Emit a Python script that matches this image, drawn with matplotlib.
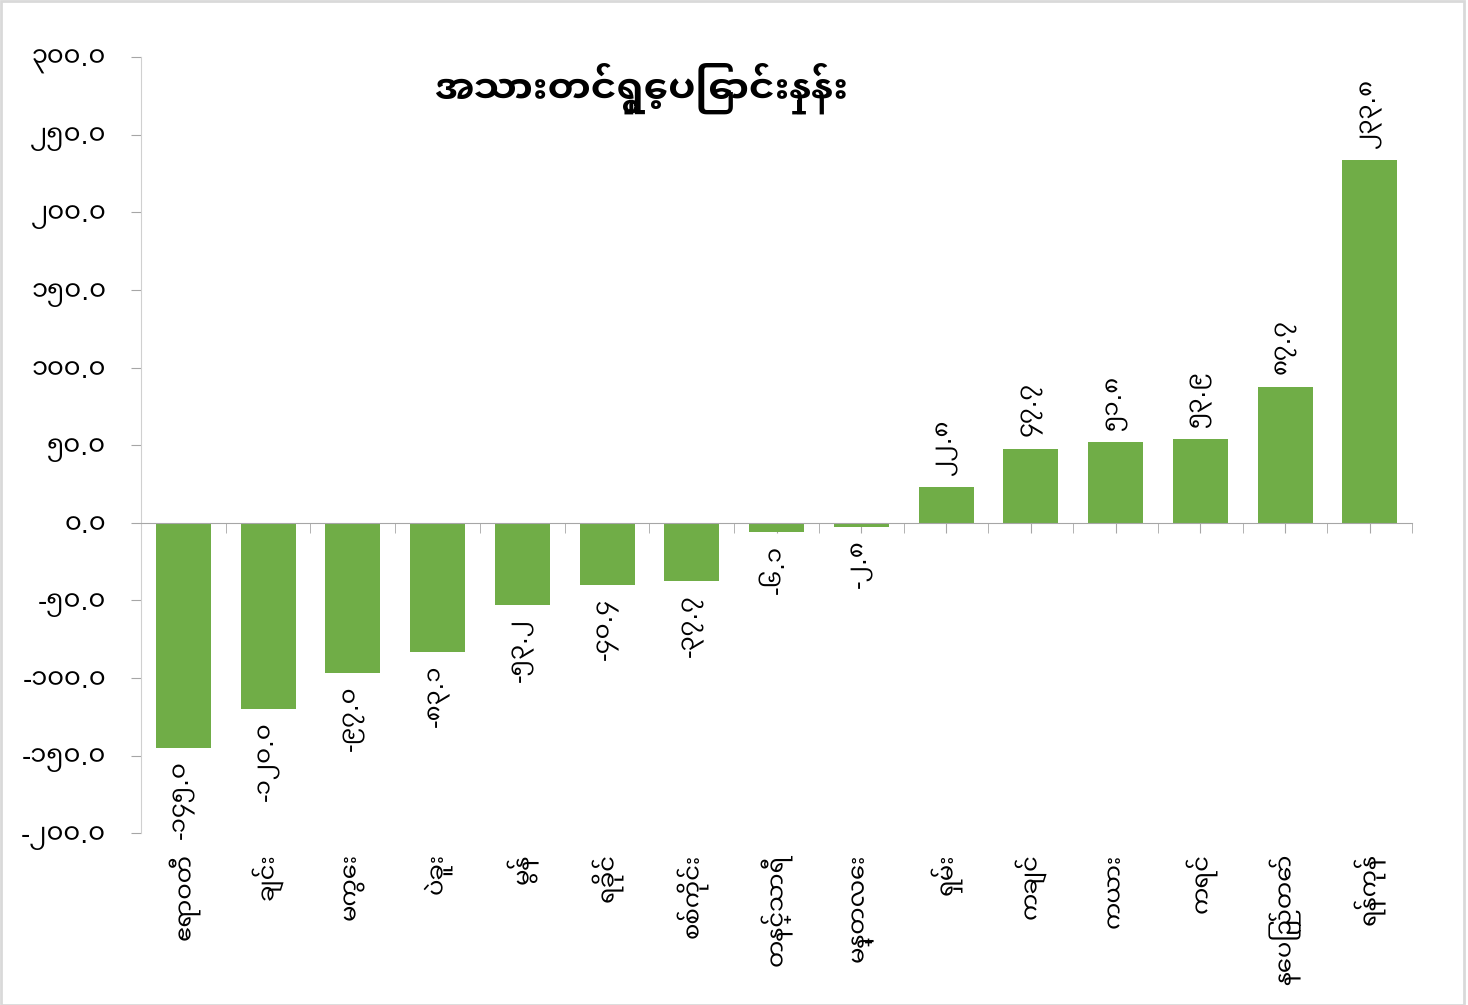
import matplotlib
matplotlib.use("Agg")
import matplotlib.pyplot as plt
from matplotlib.patches import Rectangle
import numpy as np

# data (net migration rate by state/region)
regions = ['ဧရာဝတီ', 'ချင်း', 'မကွေး', 'ပဲခူး', 'မွန်', 'ရခိုင်', 'စစ်ကိုင်း',
           'တနင်္သာရီ', 'မန္တလေး', 'ရှမ်း', 'ကချင်', 'ကယား', 'ကရင်',
           'နေပြည်တော်', 'ရန်ကုန်']
rates = [-145.0, -120.0, -97.0, -83.1, -53.2, -40.4, -37.7,
         -6.1, -2.8, 22.8, 47.7, 51.8, 53.9, 87.7, 233.8]
y_ticks = [-200, -150, -100, -50, 0, 50, 100, 150, 200, 250, 300]
title = 'အသားတင်ရွှေ့ပြောင်းနှုန်း'

plt.rcParams['font.family'] = ['Noto Sans Myanmar UI', 'DejaVu Sans']

mm_digits = str.maketrans('0123456789', '၀၁၂၃၄၅၆၇၈၉')


def mm(v):
    return f'{v:.1f}'.translate(mm_digits)


green = '#70AD47'
grey = '#A6A6A6'

fig = plt.figure(figsize=(14.68, 10.05), dpi=100)
ax = fig.add_axes([0.096, 0.171, 0.866, 0.772])

x = np.arange(len(regions))
ax.bar(x, rates, width=0.65, color=green, zorder=2)

ax.set_xlim(-0.5, len(regions) - 0.5)
ax.set_ylim(-200, 300)

# value labels, rotated like the reference
for xi, v in zip(x, rates):
    off = 9 if v >= 0 else -9
    ax.annotate(mm(v), (xi, v), xytext=(0, off), textcoords='offset points',
                rotation=90, ha='center', va='bottom' if v >= 0 else 'top',
                fontsize=17.5, color='black')

# category labels below the plot area
for xi, name in zip(x, regions):
    ax.text(xi, -0.026, name, transform=ax.get_xaxis_transform(),
            rotation=90, ha='center', va='top', fontsize=17.5, color='black')

# axes styling
for s in ['top', 'right']:
    ax.spines[s].set_visible(False)
ax.spines['bottom'].set_position(('data', 0))
ax.spines['bottom'].set_color(grey)
ax.spines['left'].set_color('#D0D0D0')

ax.set_yticks(y_ticks)
ax.set_yticklabels([mm(t) for t in y_ticks])
ax.tick_params(axis='y', length=7, color=grey, pad=18, labelsize=18.5)

ax.set_xticks(x)
ax.set_xticks(np.arange(-0.5, len(regions)), minor=True)
ax.set_xticklabels([])
ax.tick_params(axis='x', which='both', direction='out', length=7, color=grey)

fig.text(0.437, 0.912, title, ha='center', va='center',
         fontsize=28, fontweight='bold')

# light outer frame
fig.patches.append(Rectangle((0.001, 0.0), 0.996, 0.999, transform=fig.transFigure,
                             fill=False, edgecolor='#D9D9D9', linewidth=2))

fig.savefig('out.png', dpi=100)
